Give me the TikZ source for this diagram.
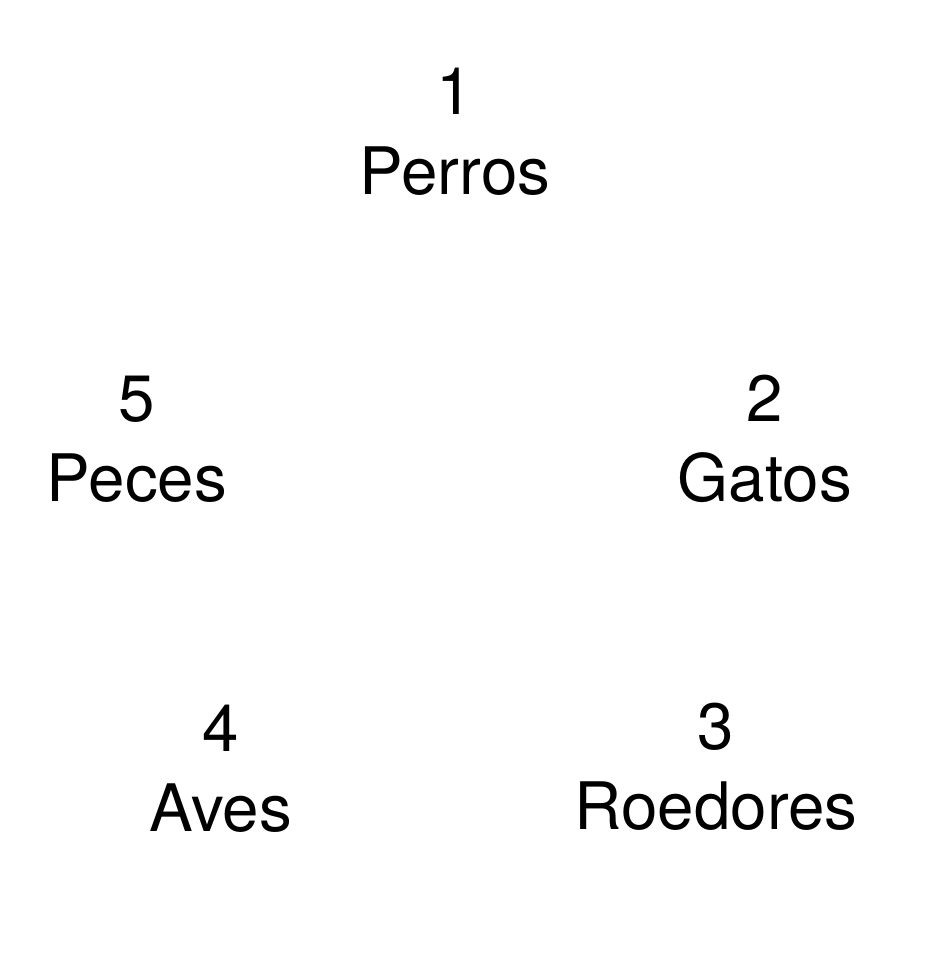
\documentclass[tikz,border=0pt]{standalone}
\usepackage{fontspec}
\setmainfont{TeX Gyre Heros}
\begin{document}
\begin{tikzpicture}[x=1pt,y=-1pt,
  item/.style={align=center,inner sep=0pt,anchor=base,
    font=\fontsize{65.5}{80}\selectfont}]
\useasboundingbox (0,0) rectangle (932,966);
\node[item] (p1) at (455,194) {1\\Perros};
\node[item] (p2) at (765,501) {2\\Gatos};
\node[item] (p3) at (716,829) {3\\Roedores};
\node[item] (p4) at (221,831) {4\\Aves};
\node[item] (p5) at (137,501) {5\\Peces};
\end{tikzpicture}
\end{document}
